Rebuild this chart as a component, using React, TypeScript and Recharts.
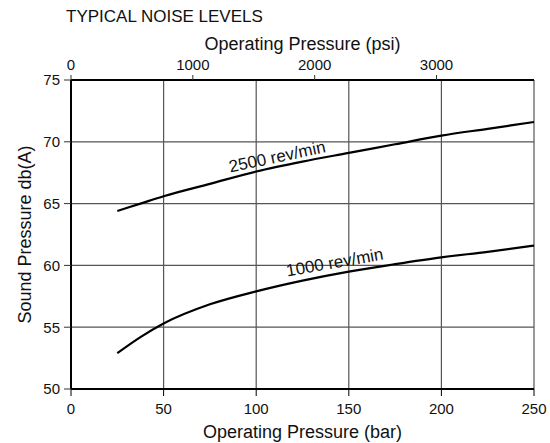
import { LineChart, Line, XAxis, YAxis, CartesianGrid } from 'recharts';

// readings from the noise chart (bar -> dB(A))
const pressureBar = [25, 37.5, 50, 75, 100, 125, 150, 175, 200, 225, 250];
const noise2500 = [64.4, 65.0, 65.6, 66.6, 67.6, 68.4, 69.1, 69.8, 70.5, 71.05, 71.6];
const noise1000 = [52.9, 54.2, 55.3, 56.85, 57.9, 58.77, 59.5, 60.1, 60.65, 61.1, 61.6];

const barTicks = [0, 50, 100, 150, 200, 250];
const psiTicks = [0, 1000, 2000, 3000];
const soundTicks = [50, 55, 60, 65, 70, 75];

// the psi scale on the original runs to about 3800 across the bar range
const PSI_MAX = 3800;
const FONT = '"Liberation Sans", Arial, sans-serif';

const data = pressureBar.map((bar, i) => ({
  bar,
  rpm2500: noise2500[i],
  rpm1000: noise1000[i],
}));

const curveLabel =
  (text: string, atIndex: number, dx: number, dy: number, angle: number) =>
  (props: any) => {
    if (props.index !== atIndex) return null;
    const cx = props.x + dx;
    const cy = props.y + dy;
    return (
      <text
        x={cx}
        y={cy}
        textAnchor="middle"
        dominantBaseline="central"
        transform={`rotate(${angle} ${cx} ${cy})`}
        fontSize={17}
        fontFamily={FONT}
        fill="#111"
      >
        {text}
      </text>
    );
  };

const tickStyle = { fontSize: 15, fill: '#111', fontFamily: FONT };

export default function App() {
  return (
    <div style={{ position: 'absolute', left: 0, top: 0, width: 550, height: 443, fontFamily: FONT, background: '#fff' }}>
      <div style={{ position: 'absolute', left: 66, top: 8, fontSize: 17, lineHeight: '17px', color: '#111' }}>
        TYPICAL NOISE LEVELS
      </div>
      <LineChart width={550} height={443} data={data} margin={{ top: 0, right: 16, bottom: 0, left: 0 }}>
        <CartesianGrid xAxisId="bar" stroke="#555" strokeWidth={1.2} />
        <XAxis
          xAxisId="bar"
          dataKey="bar"
          type="number"
          domain={[0, 250]}
          ticks={barTicks}
          height={54}
          tickSize={7}
          tickMargin={7}
          axisLine={{ stroke: '#000', strokeWidth: 2 }}
          tickLine={{ stroke: '#000' }}
          tick={tickStyle}
          label={{
            content: ({ viewBox }: any) => (
              <text x={viewBox.x + viewBox.width / 2} y={viewBox.y + viewBox.height - 5} textAnchor="middle" fontSize={18} fontFamily={FONT} fill="#111">
                Operating Pressure (bar)
              </text>
            ),
          }}
        />
        <XAxis
          xAxisId="psi"
          orientation="top"
          dataKey={(d: any) => (d.bar / 250) * PSI_MAX}
          type="number"
          domain={[0, PSI_MAX]}
          allowDataOverflow
          ticks={psiTicks}
          height={80}
          tickSize={5}
          tickMargin={5}
          axisLine={{ stroke: '#000', strokeWidth: 2 }}
          tickLine={{ stroke: '#333' }}
          tick={tickStyle}
          label={{
            content: ({ viewBox }: any) => (
              <text x={viewBox.x + viewBox.width / 2} y={50} textAnchor="middle" fontSize={18} fontFamily={FONT} fill="#111">
                Operating Pressure (psi)
              </text>
            ),
          }}
        />
        <YAxis
          type="number"
          domain={[50, 75]}
          ticks={soundTicks}
          width={71}
          tickSize={7}
          tickMargin={4}
          axisLine={{ stroke: '#000', strokeWidth: 2 }}
          tickLine={{ stroke: '#333' }}
          tick={tickStyle}
          label={{
            content: ({ viewBox }: any) => {
              const cy = viewBox.y + viewBox.height / 2;
              return (
                <text x={31} y={cy} textAnchor="middle" transform={`rotate(-90 31 ${cy})`} fontSize={18} fontFamily={FONT} fill="#111">
                  Sound Pressure db(A)
                </text>
              );
            },
          }}
        />
        <Line
          xAxisId="bar"
          type="monotone"
          dataKey="rpm2500"
          stroke="#000"
          strokeWidth={2.2}
          dot={false}
          isAnimationActive={false}
          label={curveLabel('2500 rev/min', 4, 21, -14.5, -12)}
        />
        <Line
          xAxisId="bar"
          type="monotone"
          dataKey="rpm1000"
          stroke="#000"
          strokeWidth={2.2}
          dot={false}
          isAnimationActive={false}
          label={curveLabel('1000 rev/min', 6, -14, -9, -10)}
        />
      </LineChart>
    </div>
  );
}
